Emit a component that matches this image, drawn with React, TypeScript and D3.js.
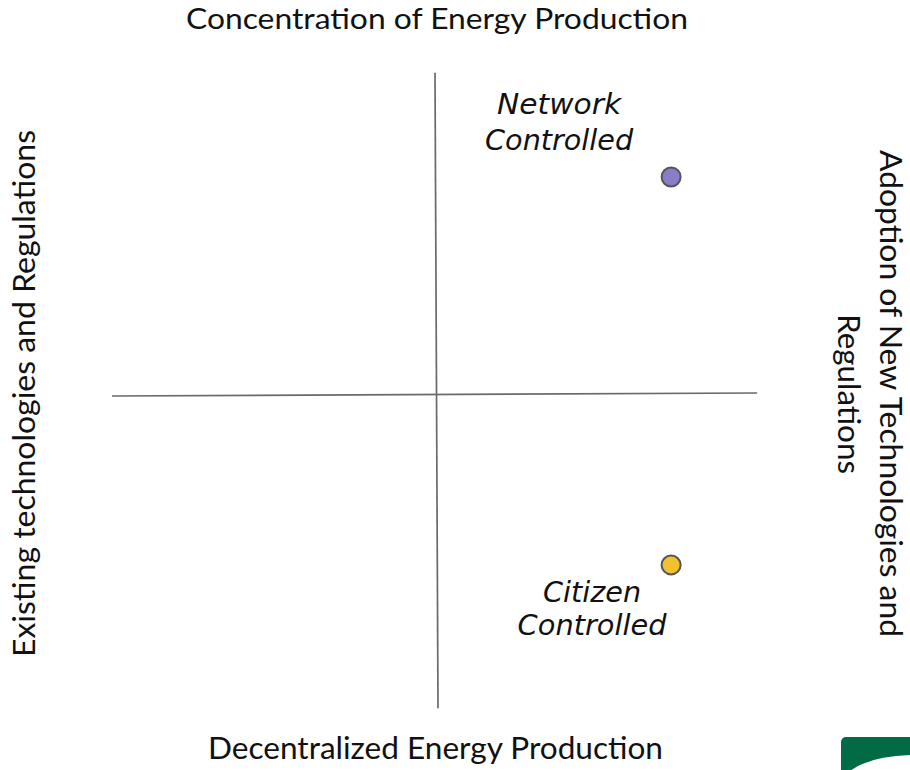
import React from "react";
import * as d3 from "d3";

// ---- data ----
const scenarioNames: string[][] = [["Network", "Controlled"], ["Citizen", "Controlled"]];
const scenarioX: number[] = [0.723, 0.723];
const scenarioY: number[] = [0.683, -0.535];
const scenarioColors: string[] = ["#8c7bc9", "#f2c12e"];
const topLabel = "Concentration of Energy Production";
const bottomLabel = "Decentralized Energy Production";
const leftLabel = "Existing technologies and Regulations";
const rightLabel: string[] = ["Adoption of New Technologies and", "Regulations"];
const xAxisExtent: number[] = [-1, 0.988];
const yAxisExtent: number[] = [1.01, -0.985];

const W = 910;
const H = 770;

export default function App() {
  const x = d3.scaleLinear().domain([-1, 1]).range([112, 761]);
  const y = d3.scaleLinear().domain([-1, 1]).range([713, 76]);
  const axisColor = "#6a6a6a";
  const sans = "Lato, 'Open Sans', sans-serif";
  const italic = "'DejaVu Sans', Verdana, sans-serif";

  // label placement relative to point (layout)
  const labelLayout = [
    { dx: -112, baselines: [114, 150], lengths: [124, 148] },
    { dx: -79, baselines: [602, 635], lengths: [98, 149] },
  ];

  return (
    <svg
      width={W}
      height={H}
      style={{ position: "absolute", left: 0, top: 0, background: "#fff" }}
    >
      <rect x={0} y={0} width={W} height={H} fill="#fff" />
      {/* quadrant axes */}
      <line
        x1={x(xAxisExtent[0])}
        x2={x(xAxisExtent[1])}
        y1={y(0) + 1.5}
        y2={y(0) - 1.5}
        stroke={axisColor}
        strokeWidth={1.7}
      />
      <line
        x1={x(0) - 1.5}
        x2={x(0) + 1.5}
        y1={y(yAxisExtent[0])}
        y2={y(yAxisExtent[1])}
        stroke={axisColor}
        strokeWidth={1.7}
      />

      {/* axis titles */}
      <text
        x={437}
        y={29}
        textAnchor="middle"
        fontFamily={sans}
        fontSize={29}
        fill="#111"
        textLength={502}
        lengthAdjust="spacingAndGlyphs"
      >
        {topLabel}
      </text>
      <text
        x={435.5}
        y={759}
        textAnchor="middle"
        fontFamily={sans}
        fontSize={30}
        fill="#111"
        textLength={455}
        lengthAdjust="spacingAndGlyphs"
      >
        {bottomLabel}
      </text>
      <text
        transform="translate(35,393.5) rotate(-90)"
        textAnchor="middle"
        fontFamily={sans}
        fontSize={30}
        fill="#111"
        textLength={527}
        lengthAdjust="spacingAndGlyphs"
      >
        {leftLabel}
      </text>
      <text
        transform="translate(880,393.5) rotate(90)"
        textAnchor="middle"
        fontFamily={sans}
        fontSize={30}
        fill="#111"
        textLength={487}
        lengthAdjust="spacingAndGlyphs"
      >
        {rightLabel[0]}
      </text>
      <text
        transform="translate(838,394) rotate(90)"
        textAnchor="middle"
        fontFamily={sans}
        fontSize={30}
        fill="#111"
        textLength={160}
        lengthAdjust="spacingAndGlyphs"
      >
        {rightLabel[1]}
      </text>

      {/* scenario points */}
      {scenarioX.map((v, i) => (
        <circle
          key={"c" + i}
          cx={x(v)}
          cy={y(scenarioY[i])}
          r={9.5}
          fill={scenarioColors[i]}
          stroke="#555"
          strokeWidth={2}
        />
      ))}
      {scenarioNames.map((lines, i) =>
        lines.map((t, j) => (
          <text
            key={"t" + i + j}
            x={x(scenarioX[i]) + labelLayout[i].dx}
            y={labelLayout[i].baselines[j]}
            textAnchor="middle"
            fontFamily={italic}
            fontStyle="italic"
            fontSize={28}
            fill="#111"
            textLength={labelLayout[i].lengths[j]}
            lengthAdjust="spacingAndGlyphs"
          >
            {t}
          </text>
        ))
      )}

      {/* corner logo fragment */}
      <rect x={841} y={737} width={90} height={60} rx={5} fill="#006b45" />
      <path d="M850,771 Q870,756 912,755 L912,771 Z" fill="#fff" />
    </svg>
  );
}
